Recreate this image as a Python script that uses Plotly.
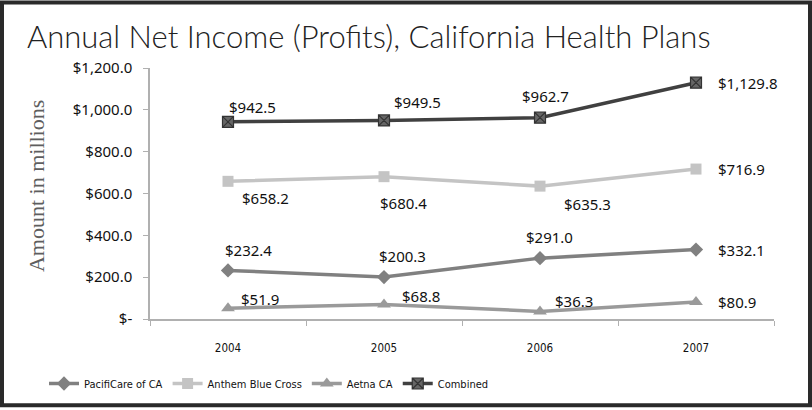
import plotly.graph_objects as go

years = ["2004", "2005", "2006", "2007"]
pacificare = [232.4, 200.3, 291.0, 332.1]
anthem = [658.2, 680.4, 635.3, 716.9]
aetna = [51.9, 68.8, 36.3, 80.9]
combined = [942.5, 949.5, 962.7, 1129.8]

y_tickvals = [0, 200, 400, 600, 800, 1000, 1200]
y_ticktext = ["$-", "$200.0", "$400.0", "$600.0", "$800.0", "$1,000.0", "$1,200.0"]

# label offsets (px): (dx, dy) where dy positive = up
lbl_off = {
    "PacifiCare of CA": [(-5, 20), (-7, 21), (-16, 21), (20, 0)],
    "Anthem Blue Cross": [(12, -17), (-6, -26), (22, -18), (20, 0)],
    "Aetna CA": [(11, 9), (16, 9), (13, 10), (20, 0)],
    "Combined": [(-1, 15), (8, 18), (-20, 22), (20, 0)],
}

series = [
    ("PacifiCare of CA", pacificare, "#808080", dict(symbol="diamond", size=11, color="#808080")),
    ("Anthem Blue Cross", anthem, "#c4c4c4", dict(symbol="square", size=11, color="#c4c4c4")),
    ("Aetna CA", aetna, "#9a9a9a", dict(symbol="triangle-up", size=12, color="#9a9a9a")),
    ("Combined", combined, "#404040", dict(symbol="square-x", size=11, color="#666666",
                                            line=dict(color="#333333", width=1.2))),
]

fig = go.Figure()
annotations = []
LBL_FONT = dict(family="Noto Sans, Open Sans, sans-serif", size=15, color="#111111")
for name, vals, col, mk in series:
    fig.add_trace(go.Scatter(
        x=years, y=vals, name=name, mode="lines+markers",
        line=dict(color=col, width=3.5), marker=mk,
    ))
    for i, v in enumerate(vals):
        dx, dy = lbl_off[name][i]
        annotations.append(dict(
            x=i, y=v, xref="x", yref="y", text=f"${v:,.1f}", showarrow=False,
            xanchor="left", yanchor="middle", xshift=dx, yshift=dy, font=LBL_FONT,
        ))

W, H = 812, 410
L, R, T, B = 150, 38, 68, 89
pw, ph = W - L - R, H - T - B

annotations.append(dict(
    text="Amount in millions", textangle=-90, showarrow=False,
    xref="paper", yref="paper", x=(36 - L) / pw, y=(321 - 187) / ph,
    xanchor="center", yanchor="middle",
    font=dict(family="Liberation Serif, serif", size=22, color="#5e5e5e"),
))

fig.update_layout(
    width=W, height=H,
    margin=dict(l=L, r=R, t=T, b=B, pad=0),
    paper_bgcolor="white", plot_bgcolor="white",
    title=dict(text="Annual Net Income (Profits), California Health Plans",
               x=27 / W, xanchor="left", xref="container",
               y=1 - 37 / H, yanchor="middle", yref="container",
               font=dict(family="Lato, sans-serif", size=31, color="#222222", weight=300)),
    xaxis=dict(type="category", range=[-0.5, 3.5], tickson="boundaries", ticks="outside", ticklen=5,
               tickcolor="#b0b0b0", showline=True, linecolor="#b0b0b0", linewidth=1.5,
               showgrid=False, zeroline=False, ticklabelstandoff=17, tickangle=0,
               tickfont=dict(family="Liberation Sans Narrow, DejaVu Sans Condensed, sans-serif",
                             size=11.5, color="#111111")),
    yaxis=dict(range=[0, 1200], tickvals=y_tickvals, ticktext=y_ticktext,
               ticks="outside", ticklen=5, tickcolor="#b0b0b0",
               showline=True, linecolor="#b0b0b0", linewidth=1.5,
               showgrid=False, zeroline=False, ticklabelstandoff=8,
               tickfont=dict(family="Noto Sans, Open Sans, sans-serif", size=15, color="#111111")),
    legend=dict(orientation="h", x=(44 - L) / pw, xanchor="left",
                y=(321 - 386) / ph, yanchor="middle",
                font=dict(family="Liberation Sans Narrow, DejaVu Sans Condensed, sans-serif",
                          size=11, color="#111111"),
                itemwidth=30, tracegroupgap=0, bgcolor="rgba(0,0,0,0)"),
    annotations=annotations,
    shapes=[dict(type="rect", xref="paper", yref="paper",
                 x0=(2 - L) / pw, x1=1 + (R - 2) / pw,
                 y0=-(B - 2) / ph, y1=1 + (T - 2) / ph,
                 line=dict(color="#2a2a2a", width=4), fillcolor="rgba(0,0,0,0)")],
    showlegend=True,
)

fig.write_html("out.html", config={"displayModeBar": False},
               post_script="document.body.style.margin='0';document.body.style.overflow='hidden';")
